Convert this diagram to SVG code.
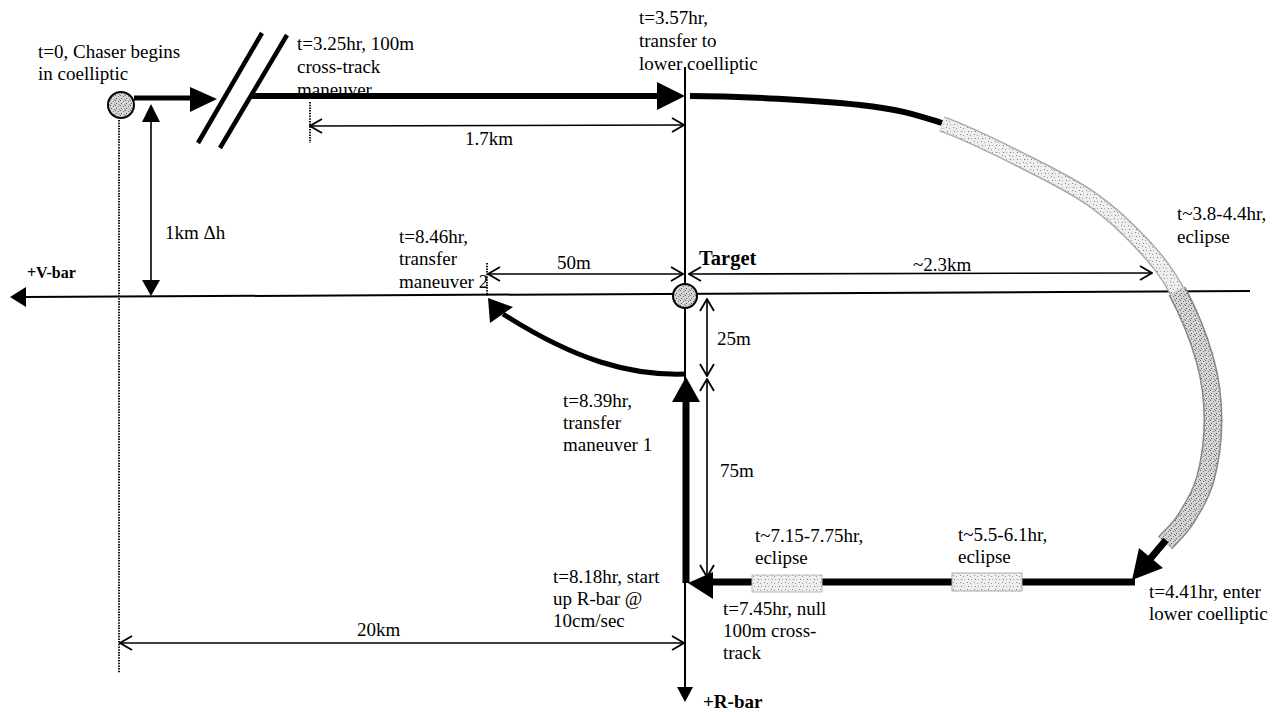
<svg xmlns="http://www.w3.org/2000/svg" width="1284" height="712" viewBox="0 0 1284 712">
<style>
.t{font-family:"Liberation Serif","Times New Roman",serif;font-size:19px;fill:#000}
.b{font-weight:bold}
.dim{stroke:#000;stroke-width:1.6;fill:none}
.dimA{stroke:#000;stroke-width:1.6;fill:none;marker-start:url(#open);marker-end:url(#open)}
.dot{stroke:#000;stroke-width:1.8;stroke-dasharray:1.5 1.2;fill:none}
.thick{stroke:#000;stroke-width:6;fill:none}
.axis{stroke:#000;stroke-width:2;fill:none}
.head{fill:#000;stroke:none}
.ball{fill:url(#st2);stroke:#000;stroke-width:2}
</style>
<defs>
<pattern id="st" width="7" height="7" patternUnits="userSpaceOnUse">
<rect width="7" height="7" fill="#eeeeee"/>
<rect x="1" y="1" width="1" height="1" fill="#888"/>
<rect x="4" y="2" width="1" height="1" fill="#999"/>
<rect x="2" y="5" width="1" height="1" fill="#777"/>
<rect x="5" y="5" width="1" height="1" fill="#aaa"/>
</pattern>
<pattern id="st2" width="5" height="5" patternUnits="userSpaceOnUse">
<rect width="5" height="5" fill="#d4d4d4"/>
<rect x="0" y="0" width="1" height="1" fill="#666"/>
<rect x="3" y="1" width="1" height="1" fill="#777"/>
<rect x="1" y="3" width="1" height="1" fill="#555"/>
<rect x="4" y="4" width="1" height="1" fill="#888"/>
</pattern>
<marker id="open" viewBox="0 0 14 16" markerWidth="14" markerHeight="16" refX="13" refY="8" orient="auto-start-reverse" markerUnits="userSpaceOnUse">
<path d="M1,1 L13,8 L1,15" fill="none" stroke="#000" stroke-width="1.8"/>
</marker>
</defs>

<rect width="1284" height="712" fill="#fff"/>

<g id="axes">
<line class="axis" x1="25" y1="297" x2="1250" y2="291"/>
<polygon class="head" points="10,297 26,287 26,307"/>
<line class="axis" x1="685" y1="67" x2="685" y2="690"/>
<polygon class="head" points="685,702 677,687 693,687"/>
</g>

<g id="guides">
<line class="dot" x1="119" y1="120" x2="119" y2="673"/>
<line class="dot" x1="310" y1="102" x2="310" y2="143"/>
<line class="dot" x1="487" y1="263" x2="487" y2="296"/>
</g>

<g id="dimensions">
<line class="dimA" x1="310" y1="126" x2="684" y2="125"/>
<line class="dimA" x1="120" y1="643" x2="684" y2="643"/>
<line class="dimA" x1="488" y1="274" x2="683" y2="274"/>
<line class="dimA" x1="689" y1="274" x2="1152" y2="273"/>
<line class="dimA" x1="707" y1="299" x2="707" y2="376"/>
<line class="dimA" x1="707" y1="379" x2="707" y2="577"/>
<line class="dim" x1="151" y1="120" x2="151" y2="282"/>
<polygon class="head" points="151,104 142,122 160,122"/>
<polygon class="head" points="151,296 142,280 160,280"/>
</g>

<g id="connectors">
<line class="thick" x1="134" y1="98" x2="192" y2="98" style="stroke-width:5"/>
<polygon class="head" points="217,99 190,87 190,112"/>
<line x1="198" y1="143" x2="262" y2="33" stroke="#000" stroke-width="4.5"/>
<line x1="220" y1="148" x2="287" y2="35" stroke="#000" stroke-width="4.5"/>
<line class="thick" x1="252" y1="96" x2="660" y2="96"/>
<polygon class="head" points="685,96 657,82 657,110"/>
<path class="thick" d="M690,96 C740,96 818,100.3 860,105 C902,109.7 914.2,114.3 942,123"/>
<path d="M942,124 C969.8,133.7 1001.8,150.3 1027,163 C1052.2,175.7 1073.7,186.3 1093,200 C1112.3,213.7 1129,229.8 1143,245 C1157,260.2 1166.7,271.8 1177,291" fill="none" stroke="#aaa" stroke-width="16"/>
<path d="M942,124 C969.8,133.7 1001.8,150.3 1027,163 C1052.2,175.7 1073.7,186.3 1093,200 C1112.3,213.7 1129,229.8 1143,245 C1157,260.2 1166.7,271.8 1177,291" fill="none" stroke="url(#st)" stroke-width="13"/>
<path d="M1177,291 C1187.3,310.2 1199,338.5 1205,360 C1211,381.5 1213,400 1213,420 C1213,440 1209.7,463.3 1205,480 C1200.3,496.7 1191.7,509.5 1185,520 C1178.3,530.5 1171.7,535.3 1165,543" fill="none" stroke="#888" stroke-width="19"/>
<path d="M1177,291 C1187.3,310.2 1199,338.5 1205,360 C1211,381.5 1213,400 1213,420 C1213,440 1209.7,463.3 1205,480 C1200.3,496.7 1191.7,509.5 1185,520 C1178.3,530.5 1171.7,535.3 1165,543" fill="none" stroke="url(#st2)" stroke-width="16"/>
<line class="thick" x1="1166" y1="540" x2="1150" y2="559" style="stroke-width:7"/>
<polygon class="head" points="1132,580 1139,548 1163,568"/>
<line class="thick" x1="1135" y1="582" x2="710" y2="582" style="stroke-width:7"/>
<rect x="952" y="573" width="70" height="18" fill="url(#st)" stroke="#aaa" stroke-width="1"/>
<rect x="752" y="575" width="70" height="17" fill="url(#st)" stroke="#bbb" stroke-width="1"/>
<polygon class="head" points="688,583 713,572 713,599"/>
<line class="thick" x1="686" y1="583" x2="686" y2="400" style="stroke-width:7"/>
<polygon class="head" points="686,377 672,402 700,402"/>
<path class="thick" d="M686,374 C630,376 575,360 503,314" style="stroke-width:5"/>
<polygon class="head" points="488,298 490,323 513,307"/>
</g>

<g id="chaser">
<circle class="ball" cx="121" cy="105" r="13"/>
</g>
<g id="target">
<circle class="ball" cx="685" cy="296" r="12"/>
<text class="t b" x="699" y="265" style="font-size:20.5px">Target</text>
</g>

<g id="labels">
<text class="t" x="38" y="58">t=0, Chaser begins</text>
<text class="t" x="38" y="80">in coelliptic</text>
<text class="t" x="297" y="50">t=3.25hr, 100m</text>
<text class="t" x="297" y="73">cross-track</text>
<text class="t" x="297" y="96">maneuver</text>
<text class="t" x="639" y="24">t=3.57hr,</text>
<text class="t" x="639" y="47">transfer to</text>
<text class="t" x="639" y="70">lower coelliptic</text>
<text class="t" x="1177" y="220">t~3.8-4.4hr,</text>
<text class="t" x="1177" y="243">eclipse</text>
<text class="t b" x="27" y="278" style="font-size:16px">+V-bar</text>
<text class="t" x="165" y="239">1km Δh</text>
<text class="t" x="399" y="243">t=8.46hr,</text>
<text class="t" x="399" y="265">transfer</text>
<text class="t" x="399" y="288">maneuver 2</text>
<text class="t" x="557" y="269">50m</text>
<text class="t" x="913" y="271">~2.3km</text>
<text class="t" x="717" y="345">25m</text>
<text class="t" x="720" y="477">75m</text>
<text class="t" x="563" y="407">t=8.39hr,</text>
<text class="t" x="563" y="429">transfer</text>
<text class="t" x="563" y="451">maneuver 1</text>
<text class="t" x="755" y="542">t~7.15-7.75hr,</text>
<text class="t" x="755" y="564">eclipse</text>
<text class="t" x="958" y="541">t~5.5-6.1hr,</text>
<text class="t" x="958" y="563">eclipse</text>
<text class="t" x="553" y="583">t=8.18hr, start</text>
<text class="t" x="553" y="605">up R-bar @</text>
<text class="t" x="553" y="627">10cm/sec</text>
<text class="t" x="723" y="615">t=7.45hr, null</text>
<text class="t" x="723" y="637">100m cross-</text>
<text class="t" x="723" y="659">track</text>
<text class="t" x="1149" y="598">t=4.41hr, enter</text>
<text class="t" x="1149" y="620">lower coelliptic</text>
<text class="t" x="465" y="145">1.7km</text>
<text class="t" x="357" y="636">20km</text>
<text class="t b" x="703" y="708" style="font-size:19px">+R-bar</text>
</g>
</svg>
